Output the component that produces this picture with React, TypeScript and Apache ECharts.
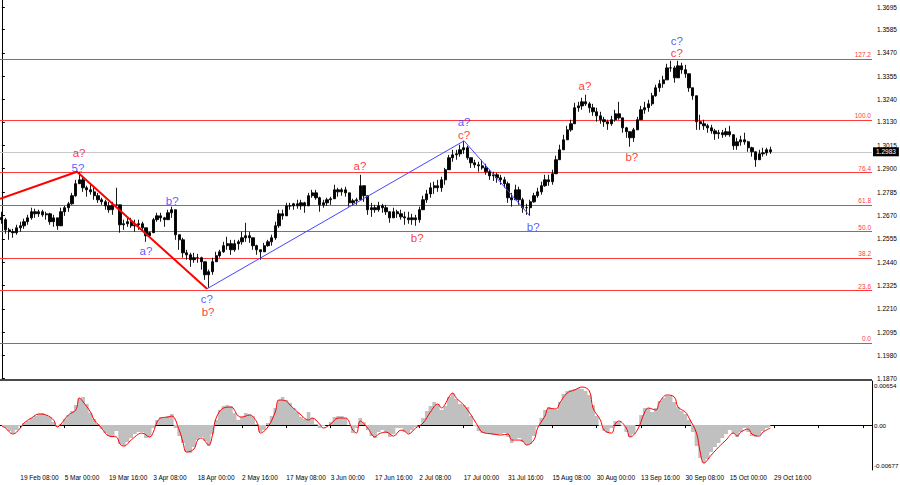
import React, { useEffect, useRef } from 'react';
import * as echarts from 'echarts';

const FONT = '"Liberation Sans", Arial, sans-serif';

const timeLabels = [
  '19 Feb 08:00', '5 Mar 00:00', '19 Mar 16:00', '3 Apr 08:00', '18 Apr 00:00', '2 May 16:00',
  '17 May 08:00', '3 Jun 00:00', '17 Jun 16:00', '2 Jul 08:00', '17 Jul 00:00', '31 Jul 16:00',
  '15 Aug 08:00', '30 Aug 00:00', '13 Sep 16:00', '30 Sep 08:00', '15 Oct 00:00', '29 Oct 16:00',
];
const priceTicks = [1.1870, 1.1980, 1.2095, 1.2210, 1.2325, 1.2440, 1.2555, 1.2670, 1.2785, 1.2900,
  1.3015, 1.3130, 1.3240, 1.3355, 1.3470, 1.3585, 1.3695];
const oscTicks = [0.00654, 0, -0.00677];
const fibLevels = [0, 23.6, 38.2, 50, 61.8, 76.4, 100, 127.2];
const fibLow = 1.2041;
const fibHigh = 1.3140;
const lastPrice = 1.2983;
const firstOpen = 1.2660;
const BAR_SLOTS = 236;
const LABEL_FIRST = 5;
const LABEL_STEP = 12;

const highs = [
  1.2688, 1.2658, 1.2609, 1.2604, 1.2624, 1.2639, 1.2654, 1.2673, 1.2708, 1.2703,
  1.2698, 1.2698, 1.2688, 1.2683, 1.2673, 1.2658, 1.2708, 1.2717, 1.2737, 1.2781,
  1.2845, 1.2885, 1.2855, 1.2816, 1.2821, 1.2806, 1.2781, 1.2757, 1.2747, 1.2737,
  1.2737, 1.2806, 1.2722, 1.2649, 1.2658, 1.2658, 1.2649, 1.2649, 1.2639, 1.2609,
  1.2590, 1.2658, 1.2683, 1.2683, 1.2663, 1.2698, 1.2713, 1.2698, 1.2575, 1.2560,
  1.2501, 1.2486, 1.2486, 1.2481, 1.2467, 1.2442, 1.2403, 1.2462, 1.2491, 1.2501,
  1.2540, 1.2565, 1.2550, 1.2550, 1.2550, 1.2590, 1.2634, 1.2590, 1.2560, 1.2526,
  1.2501, 1.2535, 1.2550, 1.2575, 1.2639, 1.2698, 1.2698, 1.2732, 1.2732, 1.2732,
  1.2747, 1.2747, 1.2737, 1.2781, 1.2796, 1.2796, 1.2762, 1.2747, 1.2757, 1.2762,
  1.2821, 1.2806, 1.2806, 1.2811, 1.2772, 1.2752, 1.2757, 1.2870, 1.2806, 1.2767,
  1.2732, 1.2722, 1.2737, 1.2727, 1.2722, 1.2683, 1.2708, 1.2698, 1.2698, 1.2688,
  1.2688, 1.2678, 1.2673, 1.2713, 1.2767, 1.2796, 1.2831, 1.2836, 1.2845, 1.2860,
  1.2904, 1.2968, 1.2993, 1.2993, 1.3018, 1.3037, 1.3013, 1.2954, 1.2944, 1.2934,
  1.2944, 1.2924, 1.2895, 1.2885, 1.2880, 1.2870, 1.2860, 1.2836, 1.2781, 1.2821,
  1.2811, 1.2757, 1.2727, 1.2747, 1.2781, 1.2806, 1.2836, 1.2870, 1.2870, 1.2895,
  1.2964, 1.3018, 1.3067, 1.3111, 1.3141, 1.3224, 1.3229, 1.3249, 1.3264, 1.3229,
  1.3219, 1.3200, 1.3180, 1.3155, 1.3141, 1.3160, 1.3190, 1.3229, 1.3141, 1.3106,
  1.3077, 1.3101, 1.3155, 1.3209, 1.3229, 1.3239, 1.3273, 1.3313, 1.3337, 1.3357,
  1.3416, 1.3431, 1.3406, 1.3431, 1.3421, 1.3411, 1.3367, 1.3298, 1.3259, 1.3165,
  1.3141, 1.3121, 1.3116, 1.3096, 1.3091, 1.3091, 1.3101, 1.3111, 1.3057, 1.3052,
  1.3062, 1.3077, 1.3037, 1.3008, 1.2978, 1.2993, 1.3003, 1.3003, 1.3008,
];

const lows = [
  1.2629, 1.2580, 1.2550, 1.2560, 1.2575, 1.2590, 1.2604, 1.2624, 1.2649, 1.2658,
  1.2663, 1.2663, 1.2649, 1.2624, 1.2614, 1.2599, 1.2639, 1.2668, 1.2688, 1.2722,
  1.2762, 1.2831, 1.2786, 1.2762, 1.2772, 1.2747, 1.2732, 1.2722, 1.2698, 1.2683,
  1.2673, 1.2713, 1.2585, 1.2599, 1.2614, 1.2609, 1.2590, 1.2599, 1.2590, 1.2540,
  1.2560, 1.2590, 1.2639, 1.2639, 1.2614, 1.2649, 1.2658, 1.2550, 1.2501, 1.2462,
  1.2452, 1.2417, 1.2437, 1.2437, 1.2403, 1.2353, 1.2314, 1.2378, 1.2442, 1.2462,
  1.2486, 1.2501, 1.2476, 1.2491, 1.2501, 1.2526, 1.2540, 1.2535, 1.2501, 1.2476,
  1.2452, 1.2491, 1.2516, 1.2521, 1.2550, 1.2609, 1.2649, 1.2673, 1.2698, 1.2698,
  1.2703, 1.2698, 1.2683, 1.2732, 1.2757, 1.2747, 1.2688, 1.2708, 1.2717, 1.2722,
  1.2757, 1.2762, 1.2767, 1.2762, 1.2713, 1.2717, 1.2722, 1.2747, 1.2737, 1.2673,
  1.2663, 1.2683, 1.2688, 1.2683, 1.2673, 1.2634, 1.2658, 1.2658, 1.2649, 1.2624,
  1.2629, 1.2624, 1.2619, 1.2634, 1.2698, 1.2732, 1.2757, 1.2776, 1.2786, 1.2786,
  1.2821, 1.2895, 1.2934, 1.2944, 1.2959, 1.2973, 1.2944, 1.2904, 1.2904, 1.2885,
  1.2895, 1.2870, 1.2845, 1.2840, 1.2831, 1.2821, 1.2806, 1.2732, 1.2713, 1.2747,
  1.2722, 1.2683, 1.2673, 1.2668, 1.2732, 1.2757, 1.2772, 1.2811, 1.2816, 1.2821,
  1.2885, 1.2944, 1.2993, 1.3042, 1.3082, 1.3121, 1.3180, 1.3190, 1.3209, 1.3175,
  1.3160, 1.3131, 1.3121, 1.3106, 1.3091, 1.3111, 1.3131, 1.3141, 1.3077, 1.3052,
  1.3008, 1.3032, 1.3091, 1.3150, 1.3170, 1.3180, 1.3209, 1.3254, 1.3278, 1.3298,
  1.3337, 1.3377, 1.3323, 1.3357, 1.3367, 1.3347, 1.3278, 1.3239, 1.3091, 1.3091,
  1.3091, 1.3077, 1.3072, 1.3042, 1.3047, 1.3052, 1.3057, 1.3057, 1.2993, 1.2993,
  1.3013, 1.3018, 1.2983, 1.2959, 1.2909, 1.2944, 1.2959, 1.2964, 1.2973,
];

const closes = [
  1.2649, 1.2599, 1.2590, 1.2585, 1.2609, 1.2619, 1.2639, 1.2658, 1.2688, 1.2678,
  1.2688, 1.2673, 1.2678, 1.2639, 1.2658, 1.2619, 1.2688, 1.2708, 1.2727, 1.2767,
  1.2826, 1.2845, 1.2806, 1.2796, 1.2786, 1.2767, 1.2747, 1.2737, 1.2717, 1.2698,
  1.2722, 1.2722, 1.2624, 1.2629, 1.2639, 1.2619, 1.2624, 1.2629, 1.2609, 1.2570,
  1.2585, 1.2649, 1.2668, 1.2658, 1.2649, 1.2683, 1.2698, 1.2575, 1.2550, 1.2486,
  1.2476, 1.2452, 1.2462, 1.2462, 1.2442, 1.2378, 1.2393, 1.2442, 1.2472, 1.2491,
  1.2521, 1.2531, 1.2501, 1.2531, 1.2540, 1.2560, 1.2570, 1.2560, 1.2521, 1.2501,
  1.2491, 1.2521, 1.2540, 1.2560, 1.2619, 1.2678, 1.2668, 1.2717, 1.2717, 1.2727,
  1.2717, 1.2732, 1.2717, 1.2767, 1.2781, 1.2757, 1.2722, 1.2732, 1.2747, 1.2752,
  1.2796, 1.2786, 1.2796, 1.2781, 1.2732, 1.2742, 1.2747, 1.2816, 1.2767, 1.2698,
  1.2708, 1.2698, 1.2717, 1.2708, 1.2688, 1.2658, 1.2688, 1.2678, 1.2663, 1.2658,
  1.2649, 1.2658, 1.2649, 1.2698, 1.2747, 1.2776, 1.2806, 1.2816, 1.2806, 1.2845,
  1.2895, 1.2954, 1.2968, 1.2973, 1.2993, 1.3003, 1.2954, 1.2929, 1.2919, 1.2914,
  1.2904, 1.2885, 1.2865, 1.2870, 1.2855, 1.2845, 1.2826, 1.2757, 1.2747, 1.2796,
  1.2747, 1.2708, 1.2708, 1.2737, 1.2767, 1.2786, 1.2816, 1.2845, 1.2836, 1.2875,
  1.2944, 1.2993, 1.3042, 1.3091, 1.3121, 1.3200, 1.3209, 1.3229, 1.3219, 1.3200,
  1.3180, 1.3160, 1.3141, 1.3131, 1.3121, 1.3141, 1.3170, 1.3150, 1.3101, 1.3082,
  1.3052, 1.3091, 1.3141, 1.3190, 1.3200, 1.3219, 1.3259, 1.3298, 1.3318, 1.3337,
  1.3396, 1.3396, 1.3347, 1.3406, 1.3387, 1.3367, 1.3298, 1.3259, 1.3131, 1.3121,
  1.3111, 1.3101, 1.3086, 1.3072, 1.3077, 1.3067, 1.3082, 1.3067, 1.3013, 1.3032,
  1.3042, 1.3032, 1.3003, 1.2983, 1.2944, 1.2973, 1.2978, 1.2993, 1.2983,
];

const macdHist = [
  -0.00017, -0.0005, -0.001, -0.00134, -0.00084, -0.00017, 0.00033, 0.00067, 0.00117, 0.0015,
  0.00184, 0.002, 0.00167, 0.00134, 0.0005, -0.00033, 0.00017, 0.001, 0.00167, 0.00234,
  0.00334, 0.00451, 0.00468, 0.00351, 0.002, 0.001, 0.00017, -0.00067, -0.00134, -0.00184,
  -0.002, -0.001, -0.00317, -0.00351, -0.00284, -0.00217, -0.0015, -0.00117, -0.00117, -0.00217,
  -0.002, -0.0005, 0.00084, 0.00134, 0.00117, 0.0015, 0.00184, -0.0005, -0.00184, -0.003,
  -0.00451, -0.00468, -0.00367, -0.0025, -0.002, -0.00267, -0.00351, -0.0015, 0.00084, 0.0025,
  0.00317, 0.00334, 0.00317, 0.002, 0.00084, 0.00134, 0.002, 0.00184, 0.0015, 0.00017,
  -0.00117, -0.00084, 0.00033, 0.0015, 0.00284, 0.00418, 0.00468, 0.00418, 0.00367, 0.00284,
  0.00217, 0.00134, 0.001, 0.00217, 0.00117, 0.00017, -0.0005, -0.00017, 0, 0.0005,
  0.00134, 0.0015, 0.0015, 0.00117, 0, -0.00134, -0.0005, 0.00117, 0.0005, -0.00084,
  -0.00184, -0.00217, -0.00117, -0.00084, -0.00134, -0.002, -0.0015, -0.0005, -0.0005, -0.00117,
  -0.00134, -0.00084, -0.00033, 0, 0.00117, 0.00234, 0.00317, 0.00384, 0.00351, 0.0025,
  0.00317, 0.00468, 0.00534, 0.00434, 0.00351, 0.00334, 0.003, 0.0015, -0.00017, -0.001,
  -0.00134, -0.00134, -0.0015, -0.00167, -0.00167, -0.0015, -0.00134, -0.002, -0.003, -0.00234,
  -0.00217, -0.00284, -0.00334, -0.00317, -0.00184, -0.00033, 0.00117, 0.0025, 0.003, 0.00267,
  0.0025, 0.00384, 0.00518, 0.00568, 0.00585, 0.00601, 0.00618, 0.00601, 0.00568, 0.00501,
  0.00334, 0.0015, -0.00017, -0.001, -0.00134, -0.0005, 0.00067, 0.0005, -0.00017, -0.00117,
  -0.002, -0.0015, 0, 0.00167, 0.00284, 0.00284, 0.00217, 0.00284, 0.004, 0.00451,
  0.00484, 0.00484, 0.00384, 0.003, 0.00234, 0.00184, 0.00084, -0.00117, -0.00351, -0.00551,
  -0.00635, -0.00568, -0.00451, -0.00367, -0.003, -0.00217, -0.0015, -0.00084, -0.0015, -0.002,
  -0.00117, -0.0005, -0.00117, -0.00184, -0.002, -0.00167, -0.001, -0.0005, -0.00033,
];

const signalPoints = [
  [0, -0.00017], [1, -0.0005], [3, -0.0015], [5, -0.0005], [6, 0.00033], [8, 0.00117], [10, 0.00184],
  [12, 0.00167], [14, 0.00084], [15, -0.00033], [16, 0.00017], [18, 0.00167], [20, 0.0025], [21, 0.00451],
  [22, 0.00384], [24, 0.00217], [25, 0.00084], [27, -0.0005], [28, -0.00134], [29, -0.00184], [31, -0.002],
  [32, -0.00317], [33, -0.00351], [35, -0.0025], [37, -0.0015], [38, -0.00134], [40, -0.002], [41, -0.00117],
  [42, 0.0005], [43, 0.00117], [45, 0.00134], [46, 0.0015], [48, -0.00084], [49, -0.00284], [50, -0.00451],
  [52, -0.004], [53, -0.0025], [54, -0.00217], [56, -0.00334], [57, -0.00167], [58, 0.00117], [60, 0.00284],
  [62, 0.003], [64, 0.0015], [65, 0.00134], [67, 0.00167], [69, 0.0005], [70, -0.00134], [72, -0.00033],
  [74, 0.00217], [75, 0.00418], [77, 0.004], [78, 0.00334], [81, 0.00167], [83, 0.00084], [84, 0.00117],
  [86, 0.00017], [87, -0.0005], [89, 0.00017], [91, 0.00117], [93, 0.00117], [95, -0.00084], [96, -0.00134],
  [97, 0.00067], [99, -0.0005], [101, -0.002], [102, -0.0015], [104, -0.00117], [106, -0.00184], [108, -0.00084],
  [109, -0.001], [110, -0.0015], [112, -0.0005], [114, 0.00033], [116, 0.00217], [118, 0.00351], [119, 0.00284],
  [120, 0.00351], [121, 0.00468], [122, 0.00534], [123, 0.00451], [125, 0.00334], [127, 0.00167], [129, -0.00033],
  [130, -0.00117], [133, -0.0015], [135, -0.00167], [137, -0.0015], [138, -0.0025], [140, -0.0025], [141, -0.00267],
  [142, -0.00334], [144, -0.0025], [145, -0.0005], [147, 0.0015], [148, 0.00284], [150, 0.00267], [151, 0.00367],
  [153, 0.00534], [155, 0.00585], [157, 0.00635], [159, 0.00568], [160, 0.00284], [162, 0.00084], [163, -0.00084],
  [165, -0.00134], [166, 0.00017], [167, 0.00067], [169, -0.0005], [170, -0.002], [172, -0.00084], [174, 0.00217],
  [175, 0.00284], [177, 0.0025], [178, 0.00384], [180, 0.00501], [182, 0.00468], [183, 0.003], [185, 0.00217],
  [186, 0.00117], [188, -0.00134], [189, -0.00451], [190, -0.00635], [192, -0.00501], [194, -0.00367],
  [196, -0.0025], [198, -0.00134], [199, -0.00184], [200, -0.00117], [202, -0.00067], [203, -0.0015],
  [205, -0.00184], [206, -0.00117], [208, -0.0005],
];

const redWave = [[-0.5, 1.2752], [20.34, 1.2885], [55.5, 1.2309]];
const blueWave = [[55.5, 1.2309], [125.1, 1.3037], [142.9, 1.2668]];

const RED = '#ff0000';
const BLUE = '#2e2eff';

const waveLabels = [
  { text: 'a?', color: RED, idx: 20.9, price: 1.2975 },
  { text: '5?', color: BLUE, idx: 20.6, price: 1.2902 },
  { text: 'b?', color: BLUE, idx: 46.1, price: 1.2742 },
  { text: 'a?', color: BLUE, idx: 39.0, price: 1.2496 },
  { text: 'c?', color: BLUE, idx: 55.5, price: 1.2257 },
  { text: 'b?', color: RED, idx: 55.8, price: 1.2194 },
  { text: 'a?', color: RED, idx: 96.9, price: 1.2914 },
  { text: 'b?', color: RED, idx: 112.4, price: 1.2560 },
  { text: 'a?', color: BLUE, idx: 125.1, price: 1.3128 },
  { text: 'c?', color: RED, idx: 125.1, price: 1.3065 },
  { text: 'b?', color: BLUE, idx: 143.8, price: 1.2614 },
  { text: 'a?', color: RED, idx: 157.8, price: 1.3308 },
  { text: 'b?', color: RED, idx: 170.5, price: 1.2959 },
  { text: 'c?', color: BLUE, idx: 182.7, price: 1.3527 },
  { text: 'c?', color: RED, idx: 182.7, price: 1.3468 },
];

const isLabelIdx = (i: number) => i >= LABEL_FIRST && (i - LABEL_FIRST) % LABEL_STEP === 0;
const categories = Array.from({ length: BAR_SLOTS }, (_, i) =>
  isLabelIdx(i) ? (timeLabels[(i - LABEL_FIRST) / LABEL_STEP] ?? '') : ''
);

export default function App() {
  const ref = useRef<HTMLDivElement>(null);
  useEffect(() => {
    if (!ref.current) return;
    const chart = echarts.init(ref.current, undefined, { renderer: 'svg' });
    const candles = closes.map((c, i) => [i === 0 ? firstOpen : closes[i - 1], c, lows[i], highs[i]]);
    const fibData: any[] = fibLevels.map((lv) => ({
      yAxis: fibLow + (lv / 100) * (fibHigh - fibLow),
      lineStyle: { color: '#ff3a3a', width: 1, type: 'solid' },
      label: {
        show: true, position: 'insideEndTop', formatter: lv.toFixed(1), color: '#ff3a3a',
        fontSize: 6.5, fontFamily: FONT, distance: [1, 1],
      },
    }));
    fibData.push({
      yAxis: lastPrice,
      lineStyle: { color: '#c8c8c8', width: 1, type: 'solid' },
      label: {
        show: true, position: 'end', formatter: lastPrice.toFixed(4), color: '#fff',
        backgroundColor: '#000', padding: [1, 3, 1, 3], fontSize: 6.5, fontFamily: FONT, distance: 1,
      },
    });
    const labelInterval = (i: number) => isLabelIdx(i);
    chart.setOption({
      animation: false,
      backgroundColor: '#fff',
      textStyle: { fontFamily: FONT },
      grid: [
        { left: 0, top: 0, width: 872, height: 378, containLabel: false, outerBoundsMode: 'none' },
        { left: 0, top: 381, width: 872, height: 89, containLabel: false, outerBoundsMode: 'none' },
      ],
      xAxis: [
        { type: 'category', gridIndex: 0, data: categories, show: false },
        {
          type: 'category', gridIndex: 1, data: categories,
          axisLine: { show: true, lineStyle: { color: '#000', width: 1 } },
          axisTick: { show: true, alignWithLabel: true, interval: labelInterval, length: 3, lineStyle: { color: '#000' } },
          axisLabel: { show: true, interval: labelInterval, align: 'left', fontSize: 6.5, color: '#000', margin: 4, fontFamily: FONT },
          splitLine: { show: false },
        },
        { type: 'value', gridIndex: 0, min: -0.5, max: BAR_SLOTS - 0.5, show: false },
      ],
      yAxis: [
        {
          type: 'value', gridIndex: 0, position: 'right', min: 1.1870, max: 1.3730,
          axisLine: { show: true, lineStyle: { color: '#000', width: 1 } },
          axisTick: { show: true, customValues: priceTicks, length: 3, lineStyle: { color: '#000' } },
          axisLabel: { show: true, customValues: priceTicks, formatter: (v: number) => v.toFixed(4), fontSize: 6.5, color: '#000', margin: 5, fontFamily: FONT },
          splitLine: { show: false },
        },
        {
          type: 'value', gridIndex: 1, position: 'right', min: -0.0075, max: 0.00735,
          axisLine: { show: true, lineStyle: { color: '#000', width: 1 } },
          axisTick: { show: false },
          axisLabel: { show: true, customValues: oscTicks, formatter: (v: number) => (v === 0 ? '0.00' : v.toFixed(5)), fontSize: 6.2, color: '#000', margin: 2, fontFamily: FONT },
          splitLine: { show: false },
        },
      ],
      series: [
        {
          type: 'candlestick', xAxisIndex: 0, yAxisIndex: 0, data: candles, barWidth: 2.8,
          itemStyle: { color: '#000', color0: '#000', borderColor: '#000', borderColor0: '#000', borderWidth: 0.9 },
          markLine: { silent: true, symbol: ['none', 'none'], precision: 5, animation: false, data: fibData, z: 1 },
          z: 3,
        },
        {
          type: 'line', xAxisIndex: 2, yAxisIndex: 0, data: redWave, symbol: 'none',
          lineStyle: { color: '#ff0000', width: 2 }, z: 5, silent: true,
        },
        {
          type: 'line', xAxisIndex: 2, yAxisIndex: 0, data: blueWave, symbol: 'none',
          lineStyle: { color: '#4545ff', width: 1 }, z: 5, silent: true,
        },
        {
          type: 'scatter', xAxisIndex: 2, yAxisIndex: 0, symbolSize: 1,
          itemStyle: { color: 'rgba(0,0,0,0)' }, z: 6, silent: true,
          label: {
            show: true, position: 'inside', formatter: (p: any) => p.name, fontSize: 11.5, fontFamily: FONT,
            textBorderWidth: 0, textBorderColor: 'transparent', fontWeight: 'normal',
          },
          data: waveLabels.map((w) => ({ name: w.text, value: [w.idx, w.price], label: { color: w.color } })),
        },
        {
          type: 'line', xAxisIndex: 1, yAxisIndex: 1, data: macdHist, step: 'middle', symbol: 'none',
          lineStyle: { width: 0, color: '#c0c0c0' }, areaStyle: { color: '#c0c0c0', opacity: 1 }, silent: true, z: 2,
        },
        {
          type: 'line', xAxisIndex: 1, yAxisIndex: 1, data: signalPoints, smooth: 0.4, symbol: 'none',
          lineStyle: { color: '#ff0000', width: 1 }, silent: true, z: 4,
        },
      ],
      graphic: [
        { type: 'rect', shape: { x: 0, y: 379, width: 872, height: 2 }, style: { fill: '#4a4a4a' }, silent: true },
      ],
    });
    return () => chart.dispose();
  }, []);
  return (
    <div
      ref={ref}
      style={{ position: 'fixed', left: 0, top: 0, width: 900, height: 485, background: '#fff' }}
    />
  );
}
